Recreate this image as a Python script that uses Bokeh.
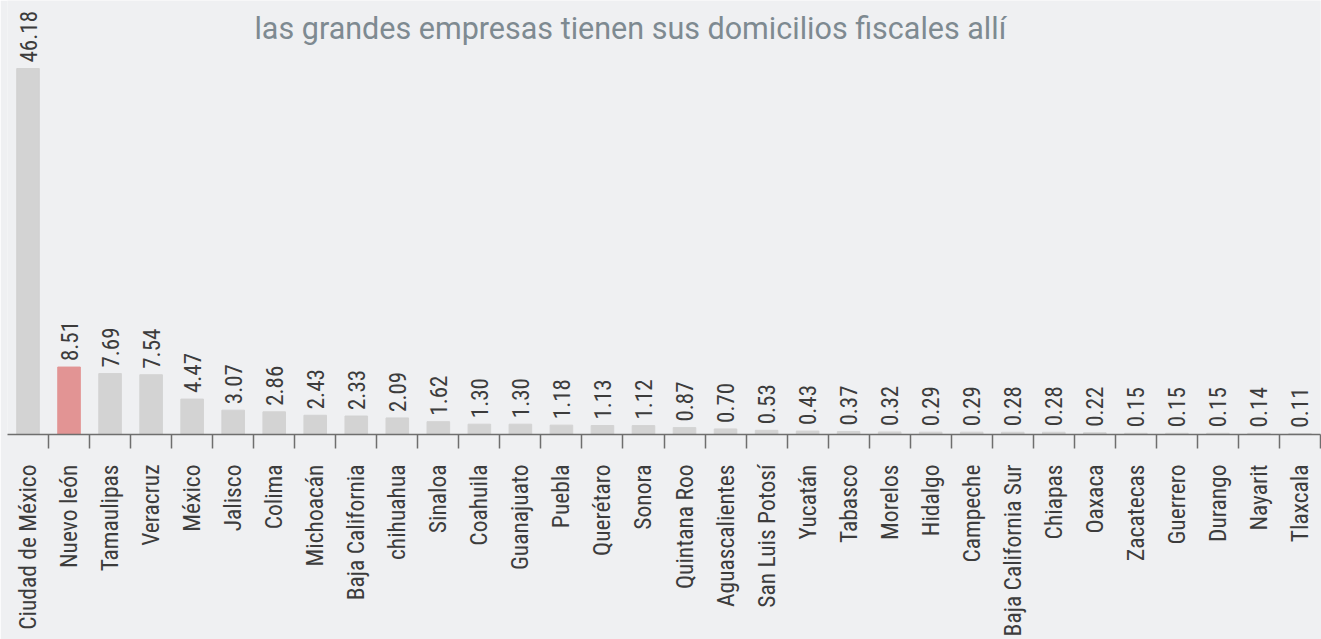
from bokeh.plotting import figure
from bokeh.models import ColumnDataSource, Range1d, FixedTicker, Label, LinearAxis
from bokeh.core.properties import value
from bokeh.embed import file_html
from bokeh.resources import INLINE
import math

states = ["Ciudad de México", "Nuevo león", "Tamaulipas", "Veracruz", "México", "Jalisco",
          "Colima", "Michoacán", "Baja California", "chihuahua", "Sinaloa", "Coahuila",
          "Guanajuato", "Puebla", "Querétaro", "Sonora", "Quintana Roo", "Aguascalientes",
          "San Luis Potosí", "Yucatán", "Tabasco", "Morelos", "Hidalgo", "Campeche",
          "Baja California Sur", "Chiapas", "Oaxaca", "Zacatecas", "Guerrero", "Durango",
          "Nayarit", "Tlaxcala"]
values = [46.18, 8.51, 7.69, 7.54, 4.47, 3.07, 2.86, 2.43, 2.33, 2.09, 1.62, 1.30,
          1.30, 1.18, 1.13, 1.12, 0.87, 0.70, 0.53, 0.43, 0.37, 0.32, 0.29, 0.29,
          0.28, 0.28, 0.22, 0.15, 0.15, 0.15, 0.14, 0.11]
highlight = "Nuevo león"
subtitle = "las grandes empresas tienen sus domicilios fiscales allí"

BG = "#EFF0F2"
GRAY = "#D3D3D3"
RED = "#E29494"
COND = "Roboto Condensed"

n = len(states)
centers = [i + 0.5 for i in range(n)]
source = ColumnDataSource(dict(
    x=centers,
    top=values,
    label=[f"{v:.2f}" for v in values],
    color=[RED if s == highlight else GRAY for s in states],
))

p = figure(width=1321, height=639, output_backend="svg", toolbar_location=None,
           x_range=Range1d(0, n), y_range=Range1d(0, 54.76),
           min_border_left=7, min_border_right=1, min_border_top=0, min_border_bottom=205)
p.background_fill_color = BG
p.border_fill_color = BG
p.outline_line_color = None
p.grid.visible = False
p.yaxis.visible = False
p.xaxis.visible = False

p.vbar(x="x", top="top", width=0.55, bottom=0, color="color", source=source)
p.text(x="x", y="top", text="label", angle=math.pi / 2, y_offset=-6,
       text_align="left", text_baseline="middle", text_font=value(COND),
       text_font_size="23px", text_color="#3C3C3C", source=source)

ax = LinearAxis(ticker=FixedTicker(ticks=centers, minor_ticks=list(range(1, n + 1))))
ax.major_label_overrides = {c: s for c, s in zip(centers, states)}
ax.major_label_orientation = math.pi / 2
ax.major_tick_out = 0
ax.major_tick_in = 0
ax.minor_tick_out = 14
ax.minor_tick_in = 0
ax.minor_tick_line_color = "#6E6E6E"
ax.minor_tick_line_width = 1.5
ax.axis_line_color = "#6E6E6E"
ax.axis_line_width = 1.5
ax.major_label_standoff = 16
ax.major_label_text_font = COND
ax.major_label_text_font_size = "23.5px"
ax.major_label_text_color = "#3C3C3C"
p.add_layout(ax, "below")

p.add_layout(Label(x=15.18, y=51.2, text=subtitle, text_align="center",
                   text_baseline="alphabetic", text_font="Roboto",
                   text_font_size="30.5px", text_color="#7E8A91"))

open("out.html", "w").write(file_html(p, INLINE))
